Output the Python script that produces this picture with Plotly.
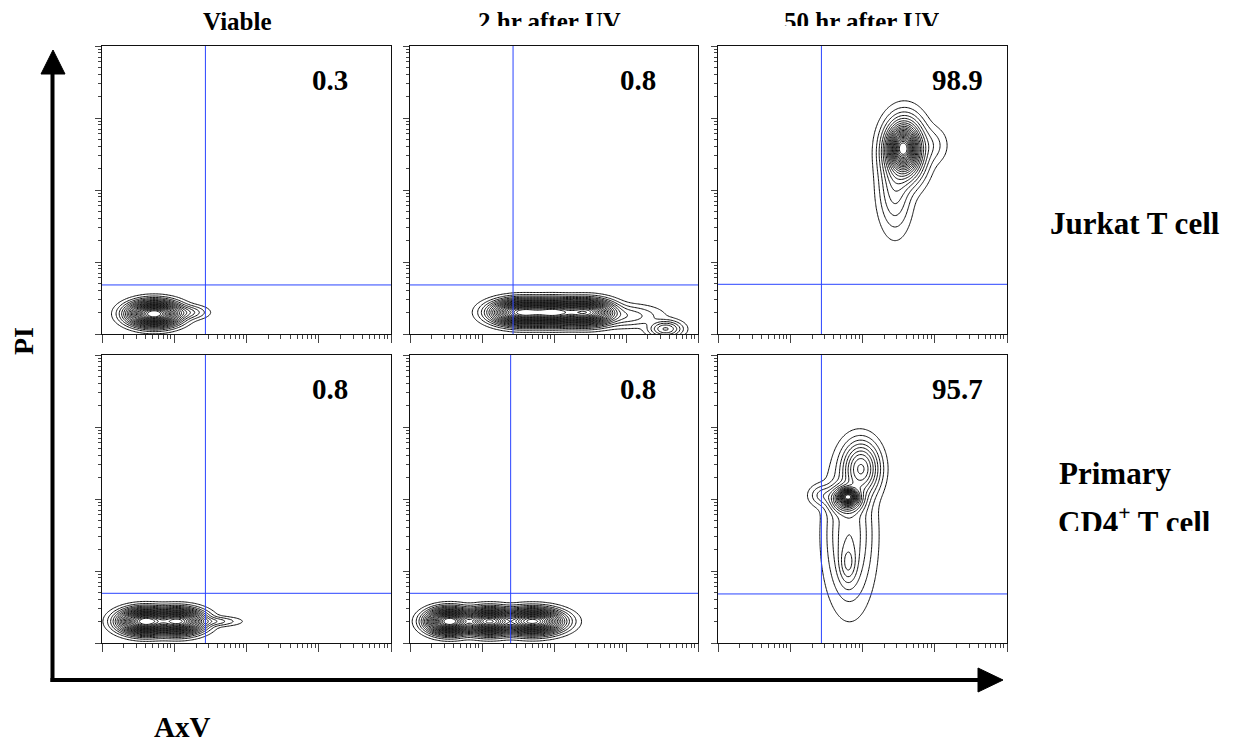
import numpy as np
import plotly.graph_objects as go

W, H = 1247, 745

# ---------------- data ----------------
col_titles = ["Viable", "2 hr after UV", "50 hr after UV"]
row_labels = ["Jurkat T cell", "Primary", "CD4<sup>+</sup> T cell"]
pct_labels = [["0.3", "0.8", "98.9"], ["0.8", "0.8", "95.7"]]
axis_x_label = "AxV"
axis_y_label = "PI"

# quadrant gate positions (AxV, PI) per panel
gate_x = [[27, 27, 27], [27, 25, 27]]
gate_y = [[4.8, 4.8, 4.9], [4.9, 4.9, 4.8]]

# cell populations:
# (log10 AxV centre, log10 PI centre, log10 spread x, log10 spread y, relative weight)
jurkat_viable = [(0.72, 0.28, 0.17, 0.08, 1.0), (1.15, 0.30, 0.15, 0.05, 0.04)]
jurkat_2hr = [(1.55, 0.30, 0.20, 0.08, 1.0), (2.00, 0.30, 0.20, 0.08, 1.0),
              (2.45, 0.30, 0.18, 0.08, 0.9), (3.00, 0.25, 0.25, 0.08, 0.03),
              (3.55, 0.07, 0.12, 0.06, 0.08)]
jurkat_50hr = [(2.56, 2.58, 0.09, 0.13, 1.0), (2.58, 2.55, 0.14, 0.22, 0.5),
               (2.95, 2.62, 0.12, 0.14, 0.02), (2.45, 2.05, 0.12, 0.32, 0.06)]
primary_viable = [(0.60, 0.30, 0.17, 0.08, 1.0), (1.05, 0.30, 0.17, 0.08, 0.85),
                  (1.50, 0.30, 0.20, 0.035, 0.03)]
primary_2hr = [(0.55, 0.30, 0.15, 0.08, 1.0), (1.10, 0.30, 0.17, 0.08, 0.9),
               (1.70, 0.30, 0.20, 0.08, 0.85)]
primary_50hr = [(1.80, 2.03, 0.06, 0.05, 1.0), (1.78, 2.00, 0.12, 0.10, 0.30),
                (1.82, 1.50, 0.17, 0.50, 0.06), (1.98, 2.42, 0.13, 0.19, 0.20),
                (1.80, 1.10, 0.07, 0.16, 0.06), (1.45, 2.05, 0.10, 0.08, 0.03)]
populations = [[jurkat_viable, jurkat_2hr, jurkat_50hr],
               [primary_viable, primary_2hr, primary_50hr]]

major_ticks = [1, 10, 100, 1000, 10000]
minor_ticks = [m * 10 ** d for d in range(4) for m in range(2, 10)]

# ---------------- layout geometry (pixels) ----------------
col_px = [(102, 391), (410, 698), (718, 1007)]
row_px = [(46, 334), (355, 643)]
pct_x = [0.79, 0.79, 0.83]


def px_x(p):
    return p / W


def px_y(p):
    return 1 - p / H


fig = go.Figure()

g = np.linspace(-0.3, 4.3, 231)
GX, GY = np.meshgrid(g, g)

annotations = []
shapes = []
idx = 0
for r in range(2):
    for c in range(3):
        idx += 1
        xa = "x" if idx == 1 else f"x{idx}"
        ya = "y" if idx == 1 else f"y{idx}"
        xkey = "xaxis" if idx == 1 else f"xaxis{idx}"
        ykey = "yaxis" if idx == 1 else f"yaxis{idx}"
        dens = np.zeros_like(GX)
        for (mx, my, sx, sy, w) in populations[r][c]:
            dens += w * np.exp(-0.5 * ((GX - mx) / sx) ** 2 - 0.5 * ((GY - my) / sy) ** 2)
        z = np.sqrt(dens / dens.max())
        fig.add_trace(go.Contour(
            x=10 ** g, y=10 ** g, z=z, xaxis=xa, yaxis=ya,
            contours=dict(coloring="lines", start=0.05, end=0.97, size=0.042),
            line=dict(width=1),
            colorscale=[[0, "#111111"], [1, "#111111"]],
            showscale=False, hoverinfo="skip"))
        axcommon = dict(type="log", range=[0, 4], showgrid=False, zeroline=False,
                        showline=True, linecolor="#111", linewidth=1.3, mirror=True,
                        ticks="outside", tickcolor="#444", tickwidth=1,
                        tickvals=major_ticks, showticklabels=False)
        l, rr = col_px[c]
        t, b = row_px[r]
        fig.layout[xkey] = dict(axcommon, domain=[px_x(l), px_x(rr)], anchor=ya, ticklen=8,
                                minor=dict(tickvals=minor_ticks, ticks="outside", ticklen=4,
                                           tickcolor="#444", tickwidth=1))
        fig.layout[ykey] = dict(axcommon, domain=[px_y(b), px_y(t)], anchor=xa, ticklen=6,
                                minor=dict(tickvals=minor_ticks, ticks="outside", ticklen=3,
                                           tickcolor="#444", tickwidth=1))
        # quadrant gates
        shapes.append(dict(type="line", xref=xa, yref=f"{ya} domain",
                           x0=gate_x[r][c], x1=gate_x[r][c], y0=0, y1=1,
                           line=dict(color="#2a44ff", width=1)))
        shapes.append(dict(type="line", xref=f"{xa} domain", yref=ya,
                           x0=0, x1=1, y0=gate_y[r][c], y1=gate_y[r][c],
                           line=dict(color="#2a44ff", width=1)))
        annotations.append(dict(text=f"<b>{pct_labels[r][c]}</b>", xref=f"{xa} domain",
                                yref=f"{ya} domain", x=pct_x[c], y=0.882, showarrow=False,
                                xanchor="center", yanchor="middle",
                                font=dict(family="Liberation Serif", size=29, color="black")))

serif = "Liberation Serif"
# column titles
title_cx = [237, 549, 861]
for i, ttl in enumerate(col_titles):
    ann = dict(text=f"<b>{ttl}</b>", xref="paper", yref="paper",
               x=px_x(title_cx[i]), y=px_y(7), xanchor="center", yanchor="top",
               showarrow=False, borderpad=0,
               font=dict(family=serif, size=25, color="black"))
    if i > 0:
        ann["height"] = 18
        ann["valign"] = "top"
    annotations.append(ann)

# row labels
annotations.append(dict(text=f"<b>{row_labels[0]}</b>", xref="paper", yref="paper",
                        x=px_x(1048), y=px_y(224), xanchor="left", yanchor="middle",
                        showarrow=False, font=dict(family=serif, size=31, color="black")))
annotations.append(dict(text=f"<b>{row_labels[1]}</b>", xref="paper", yref="paper",
                        x=px_x(1057), y=px_y(473), xanchor="left", yanchor="middle",
                        showarrow=False, font=dict(family=serif, size=31, color="black")))
annotations.append(dict(text=f"<b>{row_labels[2]}</b>", xref="paper", yref="paper",
                        x=px_x(1057), y=px_y(500), xanchor="left", yanchor="top",
                        showarrow=False, borderpad=0, height=30, valign="top",
                        font=dict(family=serif, size=31, color="black")))

# axis labels
annotations.append(dict(text=f"<b>{axis_y_label}</b>", xref="paper", yref="paper",
                        x=px_x(23), y=px_y(341), textangle=-90, showarrow=False,
                        xanchor="center", yanchor="middle",
                        font=dict(family=serif, size=28, color="black")))
annotations.append(dict(text=f"<b>{axis_x_label}</b>", xref="paper", yref="paper",
                        x=px_x(182), y=px_y(727), showarrow=False,
                        xanchor="center", yanchor="middle",
                        font=dict(family=serif, size=29, color="black")))

# big axis arrows
shapes.append(dict(type="line", xref="paper", yref="paper",
                   x0=px_x(52.5), x1=px_x(52.5), y0=px_y(682), y1=px_y(72),
                   line=dict(color="black", width=4)))
shapes.append(dict(type="path", xref="paper", yref="paper",
                   path=f"M {px_x(41)},{px_y(74)} L {px_x(65)},{px_y(74)} L {px_x(53)},{px_y(50)} Z",
                   fillcolor="black", line=dict(color="black", width=1)))
shapes.append(dict(type="line", xref="paper", yref="paper",
                   x0=px_x(50.5), x1=px_x(980), y0=px_y(680), y1=px_y(680),
                   line=dict(color="black", width=4)))
shapes.append(dict(type="path", xref="paper", yref="paper",
                   path=f"M {px_x(978)},{px_y(668)} L {px_x(978)},{px_y(692)} L {px_x(1003)},{px_y(680)} Z",
                   fillcolor="black", line=dict(color="black", width=1)))

fig.update_layout(width=W, height=H, margin=dict(l=0, r=0, t=0, b=0),
                  paper_bgcolor="white", plot_bgcolor="white", showlegend=False,
                  annotations=annotations, shapes=shapes)

fig.write_html("out.html", config={"displayModeBar": False},
               post_script="document.body.style.margin='0';document.body.style.overflow='hidden';")
